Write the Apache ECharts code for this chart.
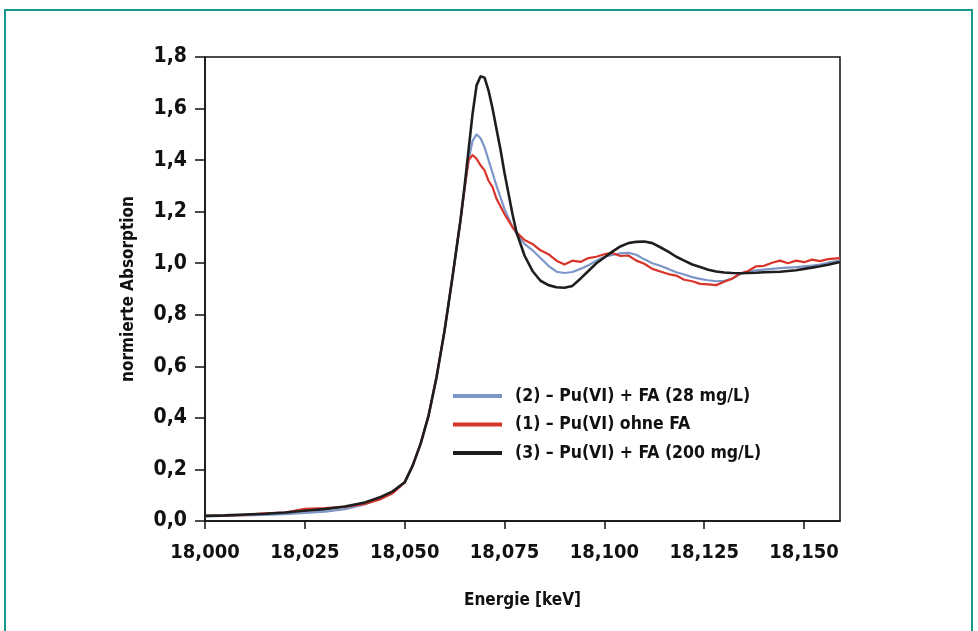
<!DOCTYPE html>
<html>
<head>
<meta charset="utf-8">
<script src="https://cdn.jsdelivr.net/npm/echarts@6/dist/echarts.min.js"></script>
<style>
  html, body { margin: 0; padding: 0; background: #ffffff; }
  #chart { width: 978px; height: 631px; }
</style>
</head>
<body>
<div id="chart"></div>
<script>
// Energie in eV (Achse zeigt keV mit Komma)
var energy = [
  18000, 18005, 18010, 18015, 18020, 18025, 18030, 18035, 18040, 18044,
  18047, 18050, 18052, 18054, 18056, 18058, 18060, 18062, 18063, 18064,
  18065, 18066, 18067, 18068, 18069, 18070, 18071, 18072, 18073, 18074,
  18075, 18076, 18077, 18078, 18080, 18082, 18084, 18086, 18088, 18090,
  18092, 18094, 18096, 18098, 18100, 18102, 18104, 18106, 18108, 18110,
  18112, 18114, 18116, 18118, 18120, 18122, 18124, 18126, 18128, 18130,
  18132, 18134, 18136, 18138, 18140, 18142, 18144, 18146, 18148, 18150,
  18152, 18154, 18156, 18159
];

// (2) Pu(VI) + FA (28 mg/L)
var absFA28 = [
  0.018, 0.020, 0.022, 0.024, 0.027, 0.031, 0.036, 0.046, 0.064, 0.088,
  0.112, 0.150, 0.215, 0.300, 0.410, 0.560, 0.740, 0.950, 1.060, 1.170,
  1.290, 1.400, 1.475, 1.500, 1.485, 1.450, 1.400, 1.350, 1.300, 1.255,
  1.210, 1.175, 1.140, 1.115, 1.075, 1.050, 1.020, 0.990, 0.967, 0.962,
  0.966, 0.978, 0.992, 1.010, 1.025, 1.032, 1.038, 1.040, 1.033, 1.015,
  1.000, 0.990, 0.978, 0.965, 0.956, 0.946, 0.939, 0.934, 0.930, 0.932,
  0.940, 0.958, 0.967, 0.972, 0.975, 0.978, 0.981, 0.983, 0.985, 0.988,
  0.991, 0.995, 1.002, 1.010
];

// (1) Pu(VI) ohne FA
var absOhneFA = [
  0.020, 0.021, 0.024, 0.030, 0.033, 0.047, 0.050, 0.055, 0.066, 0.085,
  0.108, 0.150, 0.215, 0.300, 0.410, 0.560, 0.740, 0.950, 1.060, 1.170,
  1.290, 1.400, 1.420, 1.405, 1.380, 1.360, 1.320, 1.295, 1.250, 1.220,
  1.190, 1.165, 1.140, 1.120, 1.090, 1.075, 1.050, 1.035, 1.010, 0.995,
  1.010, 1.005, 1.020, 1.025, 1.035, 1.040, 1.028, 1.030, 1.010, 0.998,
  0.978, 0.968, 0.958, 0.952, 0.936, 0.930, 0.920, 0.918, 0.915, 0.928,
  0.940, 0.960, 0.970, 0.988, 0.990, 1.002, 1.010, 1.000, 1.010, 1.004,
  1.014, 1.008, 1.016, 1.020
];

// (3) Pu(VI) + FA (200 mg/L)
var absFA200 = [
  0.020, 0.022, 0.025, 0.028, 0.033, 0.040, 0.046, 0.056, 0.072, 0.093,
  0.115, 0.150, 0.215, 0.300, 0.410, 0.560, 0.740, 0.950, 1.060, 1.170,
  1.300, 1.440, 1.580, 1.690, 1.725, 1.720, 1.670, 1.600, 1.520, 1.440,
  1.350, 1.270, 1.190, 1.120, 1.030, 0.970, 0.932, 0.915, 0.907, 0.905,
  0.912, 0.940, 0.970, 1.000, 1.022, 1.045, 1.065, 1.078, 1.083, 1.084,
  1.078, 1.062, 1.045, 1.025, 1.010, 0.995, 0.985, 0.975, 0.968, 0.964,
  0.962, 0.961, 0.962, 0.963, 0.965, 0.966, 0.967, 0.970, 0.973, 0.978,
  0.983, 0.988, 0.994, 1.005
];

var seriesNames = ['(2) – Pu(VI) + FA (28 mg/L)', '(1) – Pu(VI) ohne FA', '(3) – Pu(VI) + FA (200 mg/L)'];

function pairs(arr) {
  return energy.map(function (e, i) { return [e, arr[i]]; });
}

var font = '"DejaVu Sans Condensed", "Liberation Sans Narrow", Arial, sans-serif';

var dom = document.getElementById('chart');
var myChart = echarts.init(dom, null, { renderer: 'canvas' });
var option = {
  animation: false,
  backgroundColor: '#ffffff',
  textStyle: { fontFamily: font, fontWeight: 'bold', color: '#111' },
  graphic: [{
    type: 'rect',
    shape: { x: 5, y: 10, width: 967, height: 640 },
    style: { fill: 'none', stroke: '#17998a', lineWidth: 2 },
    silent: true
  }],
  grid: {
    left: 205, top: 57, right: 138, bottom: 110,
    show: true, borderColor: '#111', borderWidth: 1.5, backgroundColor: '#fff'
  },
  legend: {
    orient: 'vertical',
    left: 448, top: 382,
    itemWidth: 49, itemHeight: 4, itemGap: 10.5,
    icon: 'rect',
    data: seriesNames,
    textStyle: { fontFamily: font, fontWeight: 'bold', fontSize: 17.5, color: '#111', padding: [0, 0, 0, 8] }
  },
  xAxis: {
    type: 'value',
    min: 18000, max: 18159, interval: 25,
    name: 'Energie [keV]',
    nameLocation: 'middle', nameGap: 71,
    nameTextStyle: { fontFamily: font, fontWeight: 'bold', fontSize: 17, color: '#111' },
    axisLine: { lineStyle: { color: '#111', width: 1.5 } },
    axisTick: { length: 8, lineStyle: { color: '#111', width: 1.5 } },
    axisLabel: {
      fontFamily: font, fontWeight: 'bold', fontSize: 20, color: '#111', margin: 22,
      formatter: function (v) { return (v / 1000).toFixed(3).replace('.', ','); }
    },
    splitLine: { show: false }
  },
  yAxis: {
    type: 'value',
    min: 0, max: 1.8, interval: 0.2,
    name: 'normierte Absorption',
    nameLocation: 'middle', nameGap: 68, nameRotate: 90,
    nameTextStyle: { fontFamily: font, fontWeight: 'bold', fontSize: 17, color: '#111' },
    axisLine: { show: true, lineStyle: { color: '#111', width: 1.5 } },
    axisTick: { show: true, length: 10, lineStyle: { color: '#111', width: 1.5 } },
    axisLabel: {
      fontFamily: font, fontWeight: 'bold', fontSize: 21, color: '#111', margin: 18,
      formatter: function (v) { return v.toFixed(1).replace('.', ','); }
    },
    splitLine: { show: false }
  },
  series: [
    {
      name: seriesNames[0], type: 'line', showSymbol: false,
      lineStyle: { color: '#7d96c8', width: 2.2 }, itemStyle: { color: '#7d96c8' },
      data: pairs(absFA28)
    },
    {
      name: seriesNames[1], type: 'line', showSymbol: false,
      lineStyle: { color: '#d8352a', width: 2.2 }, itemStyle: { color: '#d8352a' },
      data: pairs(absOhneFA)
    },
    {
      name: seriesNames[2], type: 'line', showSymbol: false,
      lineStyle: { color: '#1e1e1e', width: 2.6 }, itemStyle: { color: '#1e1e1e' },
      data: pairs(absFA200)
    }
  ]
};

if (option && typeof option === 'object') {
  myChart.setOption(option);
}
window.addEventListener('resize', myChart.resize);
</script>
</body>
</html>
